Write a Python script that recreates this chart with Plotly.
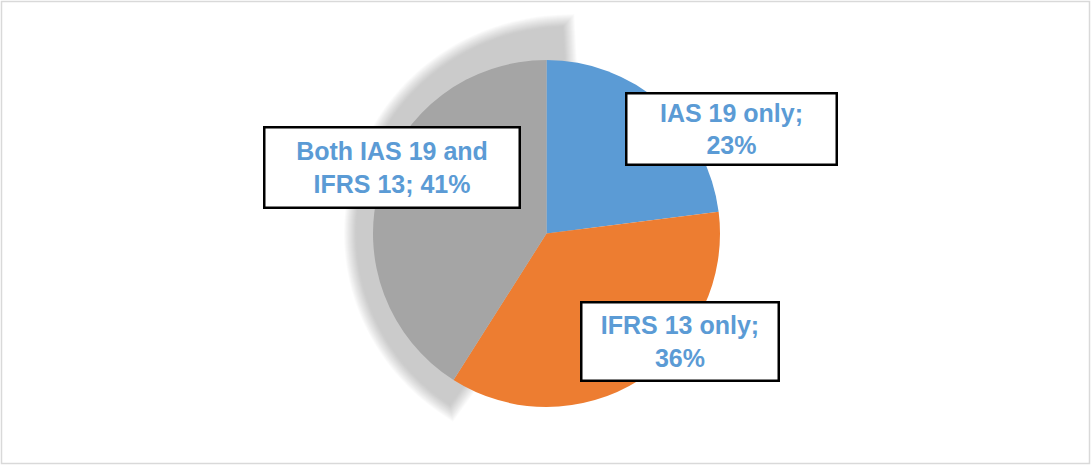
import math
import plotly.graph_objects as go

# ---- data ----
labels = ["IAS 19 only", "IFRS 13 only", "Both IAS 19 and IFRS 13"]
values = [23, 36, 41]
colors = ["#5B9BD5", "#ED7D31", "#A5A5A5"]
label_text = ["IAS 19 only;<br>23%", "IFRS 13 only;<br>36%", "Both IAS 19 and<br>IFRS 13; 41%"]

# ---- layout geometry (pixels) ----
W, H = 1091, 465
cx, cy, r = 546.5, 233.5, 173.5

fig = go.Figure()
fig.add_trace(go.Pie(
    labels=labels, values=values, sort=False, direction="clockwise", rotation=0,
    marker=dict(colors=colors, line=dict(width=0)),
    textinfo="none", hoverinfo="label+percent", showlegend=False,
    domain=dict(x=[(cx - r) / W, (cx + r) / W], y=[(H - cy - r) / H, (H - cy + r) / H]),
))

# soft perspective shadow behind the last slice (derived from data)
total = sum(values)
a0 = sum(values[:-1]) / total * 360.0
a1 = 360.0
px, py, sx, sy = 461.0, 233.5, 1.26, 1.226
shrink = 6.0

def shadow_path():
    rr = r - shrink / 1.24
    d = math.degrees(shrink / 1.24 / r)
    pts = [(cx + 4.0, cy)]
    n = 90
    for i in range(n + 1):
        t = math.radians(a0 + d + (a1 - d - a0 - d) * i / n)
        pts.append((cx + rr * math.sin(t), cy - rr * math.cos(t)))
    tp = [(px + sx * (x - px), py + sy * (y - py)) for x, y in pts]
    return "M " + " L ".join(f"{x:.2f},{y:.2f}" for x, y in tp) + " Z"

spath = shadow_path()
shapes = []
N = 13
for k in range(1, N + 1):
    g = N - k  # half stroke width (blur reach)
    shapes.append(dict(type="path", path=spath, xref="x", yref="y",
                       fillcolor="#CBCBCB",
                       line=dict(width=2 * g if g > 0 else 0, color="#CBCBCB"),
                       opacity=1.0 / (N - k + 1), layer="below"))
# chart border
shapes.append(dict(type="rect", xref="x", yref="y", x0=1.5, y0=1.5, x1=1089.5, y1=463.5,
                   line=dict(color="#D9D9D9", width=1.5), layer="above"))

# label boxes: (center x, center y, width, height) in px
boxes = [(731.7, 128.8, 210, 71), (679.5, 341.8, 197, 78), (391.5, 167.8, 255, 80)]
annotations = []
for txt, (bx, by, bw, bh) in zip(label_text, boxes):
    annotations.append(dict(
        text=f"<b>{txt}</b>", xref="paper", yref="paper",
        x=bx / W, y=1 - by / H, xanchor="center", yanchor="middle",
        showarrow=False, align="center",
        font=dict(family="Liberation Sans, Arial, sans-serif", size=25, color="#5B9BD5"),
        bgcolor="#FFFFFF", bordercolor="#000000", borderwidth=2.5, borderpad=3,
        width=bw - 8, height=bh - 8,
    ))

fig.update_layout(
    width=W, height=H, margin=dict(l=0, r=0, t=0, b=0),
    paper_bgcolor="#FFFFFF", plot_bgcolor="rgba(0,0,0,0)",
    xaxis=dict(range=[0, W], visible=False, fixedrange=True),
    yaxis=dict(range=[H, 0], visible=False, fixedrange=True),
    shapes=shapes, annotations=annotations,
)
fig.write_html("out.html")
